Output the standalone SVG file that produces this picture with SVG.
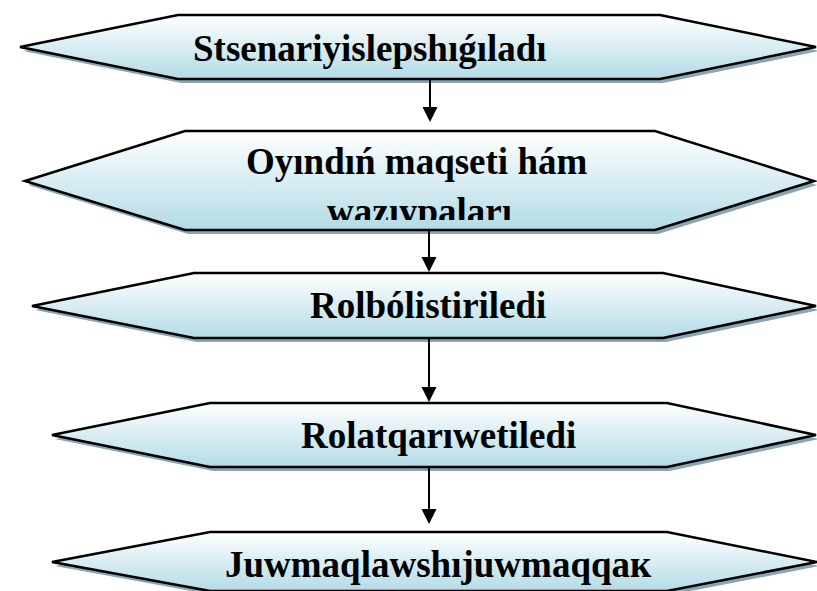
<svg xmlns="http://www.w3.org/2000/svg" width="817" height="591" viewBox="0 0 817 591">
<defs>
<linearGradient id="fillg" x1="0" y1="0" x2="0" y2="1">
<stop offset="0" stop-color="#ffffff"/>
<stop offset="1" stop-color="#b3dbe6"/>
</linearGradient>
<clipPath id="clip2"><rect x="0" y="0" width="817" height="220"/></clipPath>
</defs>
<style>
.shadow{fill:#8aa6b4;stroke:none}
.shape{fill:url(#fillg);stroke:#000;stroke-width:2.5;stroke-linejoin:miter}
.lbl{font-family:"Liberation Serif","Times New Roman",serif;font-weight:bold;font-size:37px;fill:#000}
.conn{stroke:#000;stroke-width:2;fill:none}
.head{fill:#000;stroke:none}
</style>
<rect width="817" height="591" fill="#fff"/>
<g id="node1">
<polygon class="shadow" transform="translate(3,4)" points="20,47 178,15 660,15 816,47 660,79 178,79"/>
<polygon class="shape" points="20,47 178,15 660,15 816,47 660,79 178,79"/>
<text class="lbl" x="193" y="61">Stsenariyislepshıǵıladı</text>
</g>
<g id="node2">
<polygon class="shadow" transform="translate(3,4)" points="25,181 185,131 655,131 814,181 655,230 185,230"/>
<polygon class="shape" points="25,181 185,131 655,131 814,181 655,230 185,230"/>
<text class="lbl" x="246" y="174">Oyındıń maqseti hám</text>
<text class="lbl" x="327" y="224" clip-path="url(#clip2)">wazıypaları</text>
</g>
<g id="node3">
<polygon class="shadow" transform="translate(3,4)" points="32,306 194,273 663,273 816,306 663,338 194,338"/>
<polygon class="shape" points="32,306 194,273 663,273 816,306 663,338 194,338"/>
<text class="lbl" x="310" y="318">Rolbólistiriledi</text>
</g>
<g id="node4">
<polygon class="shadow" transform="translate(3,4)" points="52,435 210,403 667,403 816,435 667,467 210,467"/>
<polygon class="shape" points="52,435 210,403 667,403 816,435 667,467 210,467"/>
<text class="lbl" x="301" y="448">Rolatqarıwetiledi</text>
</g>
<g id="node5">
<polygon class="shadow" transform="translate(3,4)" points="52,562 210,532 667,532 817,562 667,591 210,591"/>
<polygon class="shape" points="52,562 210,532 667,532 817,562 667,591 210,591"/>
<text class="lbl" x="225" y="577">Juwmaqlawshıjuwmaqqaк</text>
</g>
<g id="connectors">
<line class="conn" x1="430" y1="80" x2="430" y2="108"/>
<polygon class="head" points="422.5,107 437.5,107 430,122"/>
<line class="conn" x1="429" y1="231" x2="429" y2="258"/>
<polygon class="head" points="421.5,257 436.5,257 429,272"/>
<line class="conn" x1="429" y1="339" x2="429" y2="388"/>
<polygon class="head" points="421.5,387 436.5,387 429,402"/>
<line class="conn" x1="429" y1="468" x2="429" y2="510"/>
<polygon class="head" points="421.5,509 436.5,509 429,524"/>
</g>
</svg>
